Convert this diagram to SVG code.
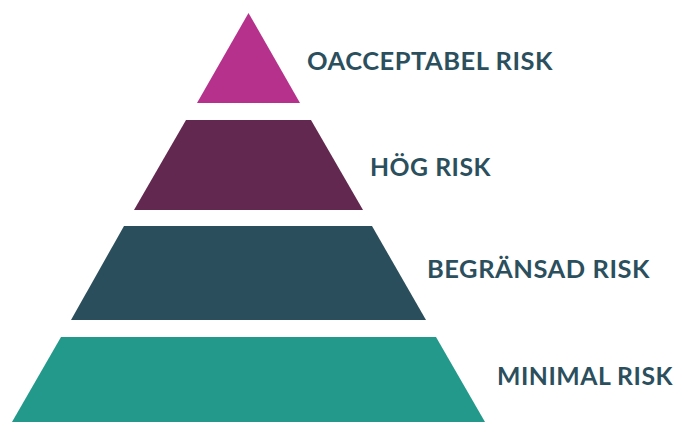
<svg xmlns="http://www.w3.org/2000/svg" width="676" height="423" viewBox="0 0 676 423">
<style>
.lbl{font-family:"Lato","Liberation Sans",sans-serif;font-weight:700;font-size:24px;fill:#2b4f5d;letter-spacing:0.5px}
</style>
<rect width="676" height="423" fill="#ffffff"/>
<g id="level1">
<polygon points="248.5,13 300,103 197,103" fill="#b5318b"/>
<text class="lbl" x="307" y="70" textLength="246" lengthAdjust="spacingAndGlyphs">OACCEPTABEL RISK</text>
</g>
<g id="level2">
<polygon points="186,120 311,120 363,210 134,210" fill="#63284f"/>
<text class="lbl" x="370" y="176" textLength="121" lengthAdjust="spacingAndGlyphs">HÖG RISK</text>
</g>
<g id="level3">
<polygon points="124,226 372,226 426,320 71,320" fill="#2a4e5b"/>
<text class="lbl" x="427" y="278" textLength="223" lengthAdjust="spacingAndGlyphs">BEGRÄNSAD RISK</text>
</g>
<g id="level4">
<polygon points="61,337 436,337 485,422 12,422" fill="#22998a"/>
<text class="lbl" x="497" y="385" textLength="176" lengthAdjust="spacingAndGlyphs">MINIMAL RISK</text>
</g>
<g id="connectors"/>
</svg>
